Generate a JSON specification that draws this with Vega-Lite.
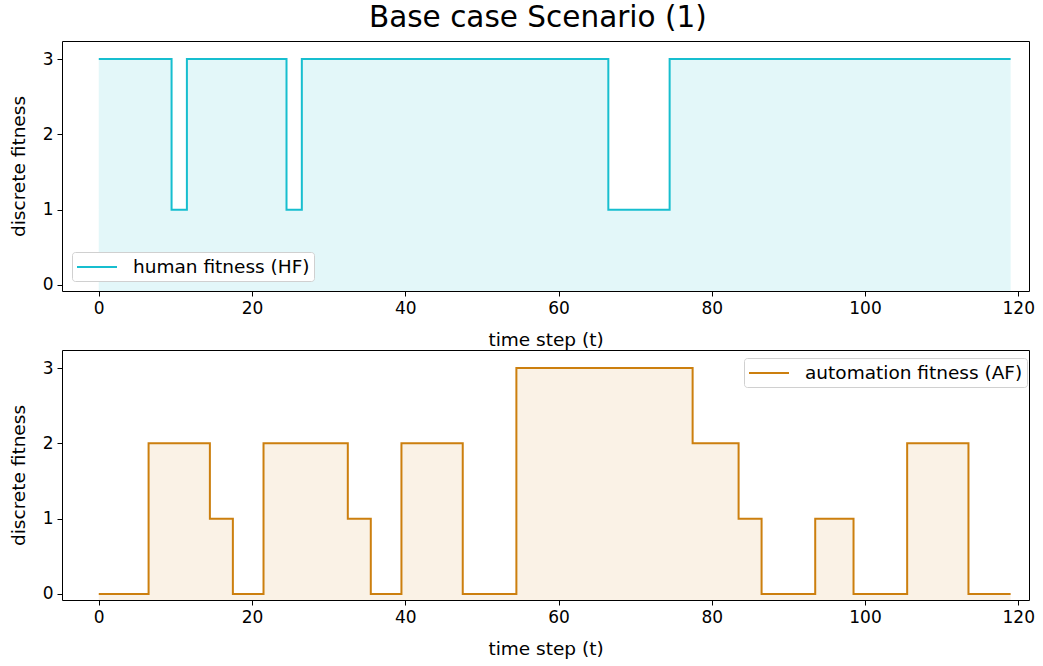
{
  "$schema": "https://vega.github.io/schema/vega-lite/v6.json",
  "title": {"text": "Base case Scenario (1)", "fontSize": 29.5, "font": "DejaVu Sans", "fontWeight": "normal", "color": "black", "anchor": "middle", "offset": 7, "dx": 16},
  "padding": {"left": 8, "top": 3, "right": 10, "bottom": 2},
  "spacing": 0,
  "datasets": {
    "hf": [
      {"t": 0, "v": 3}, {"t": 9.5, "v": 1}, {"t": 11.5, "v": 3}, {"t": 24.5, "v": 1}, {"t": 26.5, "v": 3},
      {"t": 66.5, "v": 1}, {"t": 74.5, "v": 3}, {"t": 119, "v": 3}
    ],
    "af": [
      {"t": 0, "v": 0}, {"t": 6.5, "v": 2}, {"t": 14.5, "v": 1}, {"t": 17.5, "v": 0}, {"t": 21.5, "v": 2},
      {"t": 32.5, "v": 1}, {"t": 35.5, "v": 0}, {"t": 39.5, "v": 2}, {"t": 47.5, "v": 0}, {"t": 54.5, "v": 3},
      {"t": 77.5, "v": 2}, {"t": 83.5, "v": 1}, {"t": 86.5, "v": 0}, {"t": 93.5, "v": 1}, {"t": 98.5, "v": 0},
      {"t": 105.5, "v": 2}, {"t": 113.5, "v": 0}, {"t": 119, "v": 0}
    ]
  },
  "config": {
    "font": "DejaVu Sans",
    "view": {"stroke": "black", "strokeWidth": 1},
    "axis": {
      "grid": false, "domain": false, "tickColor": "black", "tickSize": 5, "tickWidth": 1,
      "labelFontSize": 17, "labelColor": "black", "labelFont": "DejaVu Sans", "labelPadding": 4,
      "titleFontSize": 18.5, "titleFontWeight": "normal", "titleColor": "black", "titleFont": "DejaVu Sans"
    },
    "legend": {
      "strokeColor": "#d0d0d0", "fillColor": "white", "cornerRadius": 3, "padding": 4,
      "symbolType": "M-1,0H3", "symbolSize": 400, "symbolStrokeWidth": 2, "labelLimit": 0,
      "labelFontSize": 18.5, "labelColor": "black", "labelFont": "DejaVu Sans", "labelOffset": 35
    }
  },
  "resolve": {"scale": {"color": "independent"}, "legend": {"color": "independent"}},
  "vconcat": [
    {
      "width": 967, "height": 250,
      "data": {"name": "hf"},
      "encoding": {
        "x": {"field": "t", "type": "quantitative", "scale": {"domain": [-4.8, 121.4], "nice": false, "zero": false},
              "axis": {"values": [0, 20, 40, 60, 80, 100, 120], "title": "time step (t)", "titlePadding": 14}},
        "y": {"field": "v", "type": "quantitative", "scale": {"domain": [-0.08, 3.24], "nice": false, "zero": false},
              "axis": {"values": [0, 1, 2, 3], "title": "discrete fitness", "titlePadding": 14}}
      },
      "layer": [
        {"mark": {"type": "area", "interpolate": "step-after", "color": "#17becf", "opacity": 0.12},
         "encoding": {"y2": {"datum": -0.08}}},
        {"mark": {"type": "line", "interpolate": "step-after", "strokeWidth": 2},
         "encoding": {"color": {"datum": "human fitness (HF)", "type": "nominal", "scale": {"range": ["#17becf"]},
                                "legend": {"title": null, "orient": "none", "legendX": 10, "legendY": 211}}}}
      ]
    },
    {
      "width": 967, "height": 250,
      "data": {"name": "af"},
      "encoding": {
        "x": {"field": "t", "type": "quantitative", "scale": {"domain": [-4.8, 121.4], "nice": false, "zero": false},
              "axis": {"values": [0, 20, 40, 60, 80, 100, 120], "title": "time step (t)", "titlePadding": 14}},
        "y": {"field": "v", "type": "quantitative", "scale": {"domain": [-0.08, 3.24], "nice": false, "zero": false},
              "axis": {"values": [0, 1, 2, 3], "title": "discrete fitness", "titlePadding": 14}}
      },
      "layer": [
        {"mark": {"type": "area", "interpolate": "step-after", "color": "#cc7f0e", "opacity": 0.1},
         "encoding": {"y2": {"datum": -0.08}}},
        {"mark": {"type": "line", "interpolate": "step-after", "strokeWidth": 2},
         "encoding": {"color": {"datum": "automation fitness (AF)", "type": "nominal", "scale": {"range": ["#cc7f0e"]},
                                "legend": {"title": null, "orient": "none", "legendX": 682, "legendY": 8}}}}
      ]
    }
  ]
}
